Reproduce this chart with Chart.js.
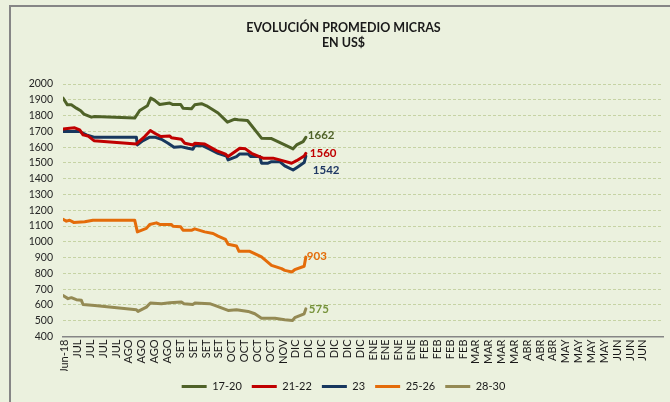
<!DOCTYPE html>
<html>
<head>
<meta charset="utf-8">
<script src="https://cdn.jsdelivr.net/npm/chart.js@4.4.0/dist/chart.umd.min.js"></script>
<style>
  html, body { margin: 0; padding: 0; background: #ebf1de; }
  #frame { position: absolute; left: 9px; top: 5px; width: 680px; height: 420px; border-left: 2px solid #868686; border-top: 2px solid #868686; }
  #wrap { position: absolute; left: 0; top: 0; width: 670px; height: 402px; }
</style>
</head>
<body>
<div id="frame"></div>
<div id="wrap"><canvas id="myChart"></canvas></div>
<script>
'use strict';

// Week labels on the x axis
const xLabels = ['Jun-18', 'JUL', 'JUL', 'JUL', 'JUL', 'AGO', 'AGO', 'AGO', 'AGO',
  'SET', 'SET', 'SET', 'SET', 'OCT', 'OCT', 'OCT', 'OCT', 'NOV',
  'DIC', 'DIC', 'DIC', 'DIC', 'DIC', 'DIC', 'ENE', 'ENE', 'ENE', 'ENE',
  'FEB', 'FEB', 'FEB', 'FEB', 'MAR', 'MAR', 'MAR', 'MAR', 'ABR', 'ABR', 'ABR',
  'MAY', 'MAY', 'MAY', 'MAY', 'JUN', 'JUN', 'JUN'];

const seriesNames = ['17-20', '21-22', '23', '25-26', '28-30'];

// x = weeks since Jun-18, y = US$
const x1720 = [-0.13, 0.21, 0.52, 0.91, 1.25, 1.50, 2.08, 2.34, 5.45, 5.84, 6.44, 6.70, 7.01, 7.40, 8.18, 8.43, 9.03, 9.21, 9.87, 10.12, 10.65, 11.04, 11.94, 12.67, 13.24, 13.50, 14.23, 15.32, 16.10, 17.13, 17.78, 18.05, 18.56, 18.77];
const y1720 = [1911, 1868, 1868, 1847, 1830, 1809, 1790, 1794, 1784, 1832, 1862, 1911, 1896, 1870, 1879, 1870, 1870, 1847, 1843, 1868, 1875, 1862, 1816, 1758, 1777, 1773, 1769, 1657, 1654, 1614, 1589, 1614, 1635, 1662];

const x2122 = [-0.13, 0.39, 0.78, 1.17, 1.43, 1.81, 2.28, 5.58, 6.23, 6.67, 7.01, 7.48, 8.18, 8.31, 9.09, 9.35, 9.99, 10.12, 10.90, 11.81, 12.52, 12.72, 13.63, 14.07, 14.54, 15.44, 16.22, 16.74, 17.66, 18.05, 18.64, 18.77];
const y2122 = [1714, 1720, 1722, 1709, 1678, 1671, 1641, 1620, 1667, 1705, 1688, 1667, 1671, 1659, 1650, 1625, 1614, 1625, 1620, 1578, 1555, 1540, 1593, 1589, 1561, 1530, 1530, 1519, 1498, 1514, 1544, 1560];

const x23 = [-0.13, 1.17, 1.69, 2.28, 5.58, 5.66, 6.10, 6.62, 7.01, 7.53, 8.05, 8.51, 9.03, 9.60, 9.99, 10.12, 10.77, 11.29, 11.94, 12.59, 12.72, 13.37, 13.63, 14.28, 14.49, 15.19, 15.32, 15.83, 16.10, 16.74, 17.13, 17.78, 18.17, 18.64, 18.77];
const y23 = [1699, 1699, 1678, 1663, 1663, 1614, 1641, 1663, 1663, 1650, 1625, 1599, 1603, 1593, 1587, 1608, 1608, 1587, 1561, 1544, 1519, 1540, 1557, 1557, 1540, 1540, 1498, 1498, 1508, 1508, 1481, 1455, 1476, 1502, 1542];

const x2526 = [-0.13, 0.13, 0.39, 0.70, 1.56, 2.20, 5.45, 5.66, 6.36, 6.62, 7.14, 7.40, 8.31, 8.43, 9.03, 9.21, 9.91, 10.12, 10.90, 11.55, 11.94, 12.52, 12.72, 13.37, 13.57, 14.41, 15.32, 16.10, 16.88, 17.13, 17.70, 17.91, 18.64, 18.77];
const y2526 = [1142, 1131, 1137, 1123, 1127, 1137, 1137, 1063, 1085, 1110, 1120, 1110, 1110, 1099, 1095, 1074, 1074, 1082, 1063, 1053, 1036, 1015, 985, 974, 940, 940, 904, 851, 830, 819, 809, 824, 845, 903];

const x2830 = [-0.13, 0.26, 0.52, 0.91, 1.30, 1.43, 2.34, 5.58, 5.71, 6.36, 6.67, 7.53, 8.18, 9.09, 9.29, 9.99, 10.12, 11.29, 11.68, 12.72, 13.37, 14.28, 14.80, 15.32, 16.36, 17.13, 17.73, 17.91, 18.64, 18.77];
const y2830 = [660, 640, 646, 633, 629, 603, 597, 570, 559, 586, 612, 608, 614, 618, 608, 603, 612, 608, 597, 565, 570, 559, 544, 516, 516, 506, 502, 519, 544, 575];

const seriesX = [x1720, x2122, x23, x2526, x2830];
const seriesY = [y1720, y2122, y23, y2526, y2830];

const lineColors = ['#4f6228', '#c00000', '#17375e', '#e46c0a', '#948a54'];
const labelColors = ['#4f6228', '#c00000', '#1f3864', '#e46c0a', '#77933c'];
// where the last-value label sits relative to the line end
const labelShift = [[2, -2], [4, 0], [7, 14], [1, -1], [3, 0]];

function toPoints(xs, ys) {
  return xs.map((x, i) => ({ x: x, y: ys[i] }));
}

const datasets = seriesNames.map((name, i) => ({
  label: name,
  data: toPoints(seriesX[i], seriesY[i]),
  borderColor: lineColors[i],
  backgroundColor: lineColors[i],
  borderWidth: 3,
  pointRadius: 0,
  tension: 0,
  borderJoinStyle: 'round',
  borderCapStyle: 'round'
}));

// last value written next to each line
const endLabels = {
  id: 'endLabels',
  afterDatasetsDraw(chart) {
    const ctx = chart.ctx;
    chart.data.datasets.forEach((ds, i) => {
      const meta = chart.getDatasetMeta(i);
      const last = meta.data[meta.data.length - 1];
      ctx.save();
      ctx.font = 'bold 11.5px Lato';
      ctx.fillStyle = labelColors[i];
      ctx.textBaseline = 'middle';
      ctx.textAlign = 'left';
      ctx.fillText(String(ds.data[ds.data.length - 1].y), last.x + labelShift[i][0], last.y + labelShift[i][1]);
      ctx.restore();
    });
  }
};

const config = {
  type: 'line',
  data: { datasets: datasets },
  options: {
    responsive: true,
    maintainAspectRatio: false,
    animation: false,
    layout: { padding: { left: 24, right: 7, top: 0, bottom: 0 } },
    scales: {
      x: {
        type: 'linear',
        min: -0.13,
        max: 46.57,
        afterBuildTicks: (scale) => {
          scale.ticks = xLabels.map((l, i) => ({ value: i }));
        },
        afterFit: (scale) => { scale.height = 34.5; },
        grid: { display: false, drawTicks: false },
        border: { display: true, color: '#868686', width: 1.5 },
        ticks: {
          autoSkip: false,
          maxRotation: 90,
          minRotation: 90,
          padding: 3,
          color: '#1a1a1a',
          font: { family: 'Lato', size: 11 },
          callback: (value, index) => xLabels[index]
        }
      },
      y: {
        min: 400,
        max: 2000,
        afterFit: (scale) => { scale.width = 39; },
        grid: { color: '#c6d3a4', lineWidth: 1, drawTicks: false },
        border: { display: false, dash: [3, 2] },
        ticks: {
          stepSize: 100,
          padding: 10,
          color: '#262626',
          font: { family: 'Lato', size: 10.5 },
          callback: (value) => String(value)
        }
      }
    },
    plugins: {
      title: {
        display: true,
        text: ['EVOLUCIÓN PROMEDIO MICRAS', 'EN US$'],
        color: '#1a1a1a',
        font: { family: 'Lato', size: 12.5, weight: 'bold', lineHeight: 1.2 },
        padding: { top: 20, bottom: 34 }
      },
      legend: {
        position: 'bottom',
        labels: {
          usePointStyle: true,
          pointStyle: 'line',
          pointStyleWidth: 25,
          boxHeight: 11,
          padding: 10,
          color: '#1a1a1a',
          font: { family: 'Lato', size: 11 }
        }
      },
      tooltip: { enabled: false }
    }
  },
  plugins: [endLabels]
};

const myChart = new Chart(document.getElementById('myChart'), config);
</script>
</body>
</html>
